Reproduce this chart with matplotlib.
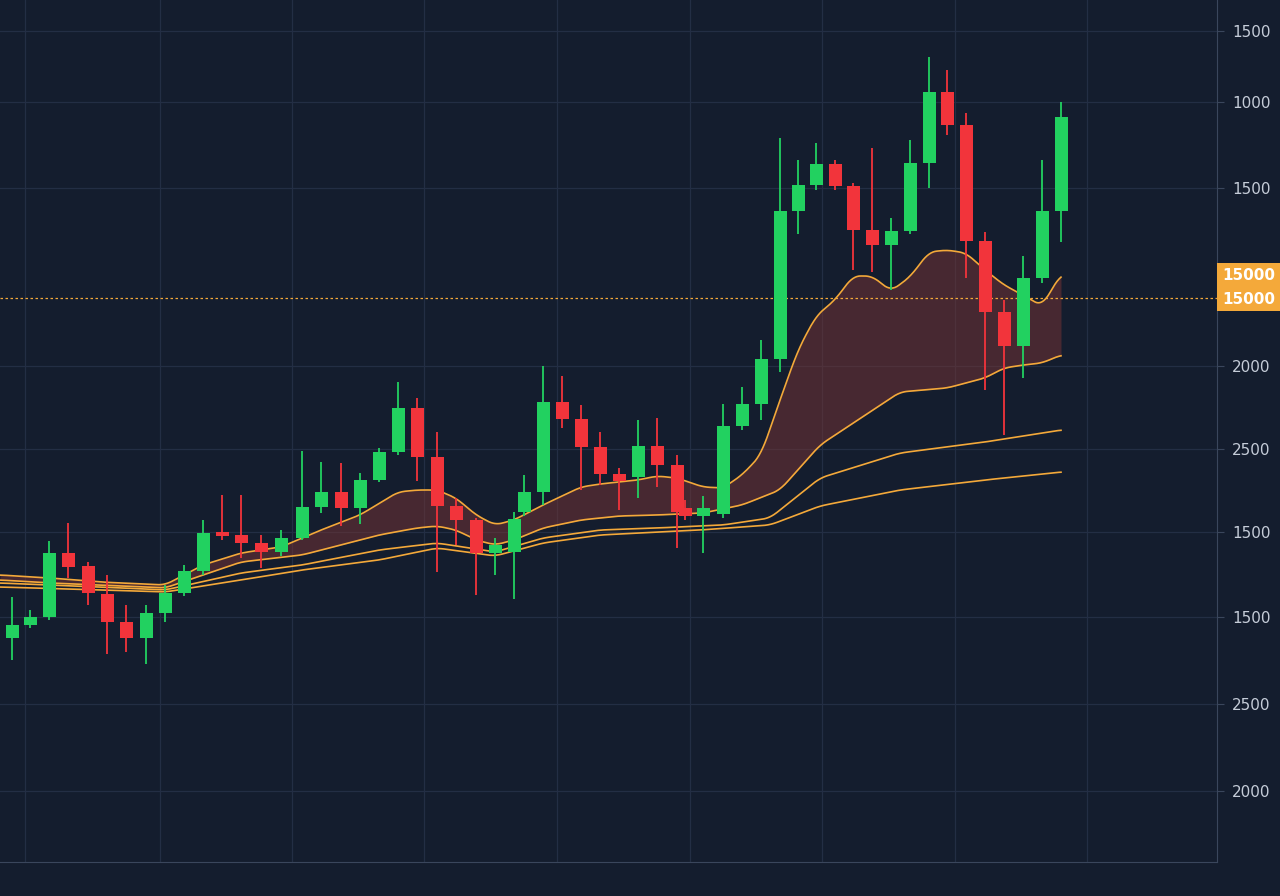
import matplotlib
matplotlib.use("Agg")
import matplotlib.pyplot as plt
import numpy as np

# candles (vertical axis is the chart's own scale, top = high)
cx = [12, 30, 49, 68, 88, 107, 126, 146, 165, 184, 203, 222, 241, 261, 281, 302, 321, 341, 360, 379,
      398, 417, 437, 456, 476, 495, 514, 524, 543, 562, 581, 600, 619, 638, 657, 677, 685, 703, 723, 742,
      761, 780, 798, 816, 835, 853, 872, 891, 910, 929, 947, 966, 985, 1004, 1023, 1042, 1061]
opens = [638, 625, 617, 553, 566, 594, 622, 638, 613, 593, 571, 532, 535, 543, 552, 538, 507, 492, 508, 480,
         452, 408, 457, 506, 520, 553, 552, 512, 492, 402, 419, 447, 474, 477, 446, 465, 508, 516, 514, 426,
         404, 359, 211, 185, 164, 186, 230, 245, 231, 163, 92, 125, 241, 312, 346, 278, 211]
closes = [625, 617, 553, 567, 593, 622, 638, 613, 593, 571, 533, 536, 543, 552, 538, 507, 492, 508, 480, 452,
          408, 457, 506, 520, 553, 545, 519, 492, 402, 419, 447, 474, 481, 446, 465, 512, 516, 508, 426, 404,
          359, 211, 185, 164, 186, 230, 245, 231, 163, 92, 125, 241, 312, 346, 278, 211, 117]
highs = [597, 610, 541, 523, 562, 575, 605, 605, 585, 565, 520, 495, 495, 535, 530, 451, 462, 463, 473, 448,
         382, 398, 432, 498, 518, 538, 512, 475, 366, 376, 405, 432, 468, 420, 418, 455, 500, 496, 404, 387,
         340, 138, 160, 143, 160, 183, 148, 218, 140, 57, 70, 113, 232, 300, 256, 160, 102]
lows = [660, 628, 620, 578, 605, 654, 652, 664, 622, 596, 575, 540, 558, 568, 556, 540, 513, 526, 524, 482,
        455, 481, 572, 545, 595, 575, 599, 516, 505, 428, 490, 485, 510, 498, 487, 548, 520, 553, 518, 430,
        420, 372, 234, 190, 190, 270, 272, 290, 234, 188, 135, 278, 390, 435, 378, 283, 242]

# moving average style lines
ma1_x = [0, 50, 100, 165, 203, 241, 281, 321, 360, 398, 417, 437, 456, 476, 495, 514, 543, 581, 600, 638, 657,
         677, 703, 723, 742, 761, 780, 798, 816, 835, 853, 872, 891, 910, 929, 947, 966, 985, 1004, 1023, 1042, 1061]
ma1_y = [575, 578, 582, 585, 565, 553, 547, 530, 515, 492, 490, 490, 498, 515, 525, 520, 505, 487, 484, 480, 476,
         478, 487, 488, 475, 455, 400, 350, 316, 300, 276, 276, 291, 277, 252, 250, 253, 270, 285, 295, 306, 274]
ma2_x = [0, 50, 100, 165, 203, 241, 302, 341, 379, 417, 437, 456, 476, 495, 514, 543, 581, 619, 657, 703, 742,
         780, 820, 861, 900, 947, 985, 1004, 1023, 1042, 1061]
ma2_y = [580, 583, 585, 588, 575, 562, 555, 545, 535, 528, 526, 530, 540, 545, 540, 528, 520, 516, 515, 513, 505,
         490, 445, 418, 392, 388, 378, 368, 365, 363, 355]
ma3_x = [0, 100, 165, 241, 302, 379, 437, 495, 543, 600, 657, 723, 770, 820, 900, 985, 1061]
ma3_y = [583, 587, 590, 573, 565, 550, 543, 552, 538, 530, 528, 525, 518, 478, 453, 442, 430]
ma4_x = [0, 100, 165, 241, 302, 379, 437, 495, 543, 600, 700, 770, 820, 900, 985, 1061]
ma4_y = [587, 590, 592, 580, 570, 560, 548, 556, 543, 535, 530, 525, 506, 490, 480, 472]

tick_pos = [31, 102, 188, 366, 449, 532, 617, 704, 791]
tick_labels = ["1500", "1000", "1500", "2000", "2500", "1500", "1500", "2500", "2000"]
price_line = 298
price_tags = [275, 299]

bg = "#141d2e"
up, down = "#22d160", "#f2343b"
orange = "#f4a93a"

fig = plt.figure(figsize=(12.8, 8.96), dpi=100, facecolor=bg)
ax = fig.add_axes([0, 34 / 896, 1217 / 1280, 862 / 896], facecolor=bg)
ax.set_xlim(0, 1217)
ax.set_ylim(862, 0)

for gx in [25, 160, 292, 424, 557, 690, 822, 955, 1087]:
    ax.axvline(gx, color="#232e44", lw=0.9, zorder=0)
for ty in tick_pos:
    ax.axhline(ty, color="#232e44", lw=0.9, zorder=0)


def smooth(xs, ys, grid):
    v = np.interp(grid, xs, ys)
    k = np.ones(15) / 15
    pad = np.pad(v, 7, mode="edge")
    return np.convolve(pad, k, mode="valid")


grid = np.arange(0, 1062)
a = smooth(ma1_x, ma1_y, grid)
b = smooth(ma2_x, ma2_y, grid)
ax.fill_between(grid, a, b, color="#7a3434", alpha=0.5, lw=0, zorder=1)
for xs, ys in [(ma1_x, ma1_y), (ma2_x, ma2_y), (ma3_x, ma3_y), (ma4_x, ma4_y)]:
    ax.plot(grid, smooth(xs, ys, grid), color=orange, lw=1.2, zorder=2)

for x, o, c, h, l in zip(cx, opens, closes, highs, lows):
    col = up if c < o else down
    ax.vlines(x, h, l, color=col, lw=1.3, zorder=3)
    ax.bar(x, abs(o - c) if abs(o - c) > 2 else 3, bottom=min(o, c), width=13, color=col, zorder=4)

ax.axhline(price_line, color=orange, lw=0.9, ls=(0, (2, 2)), zorder=2)

for s in ["top", "left"]:
    ax.spines[s].set_visible(False)
ax.spines["right"].set_color("#3a465c")
ax.spines["bottom"].set_color("#3a465c")
ax.yaxis.tick_right()
ax.set_yticks(tick_pos)
ax.set_yticklabels(tick_labels, color="#c5ccd8", fontsize=11)
ax.tick_params(axis="y", length=5, color="#3a465c", pad=6)
ax.set_xticks([])

for ty in price_tags:
    ax.text(1222, ty, "15000", color="white", fontsize=11, fontweight="bold", va="center", ha="left",
            bbox=dict(boxstyle="square,pad=0.3", fc=orange, ec="none"), clip_on=False, zorder=6)

fig.savefig("out.png", dpi=100, facecolor=bg)
